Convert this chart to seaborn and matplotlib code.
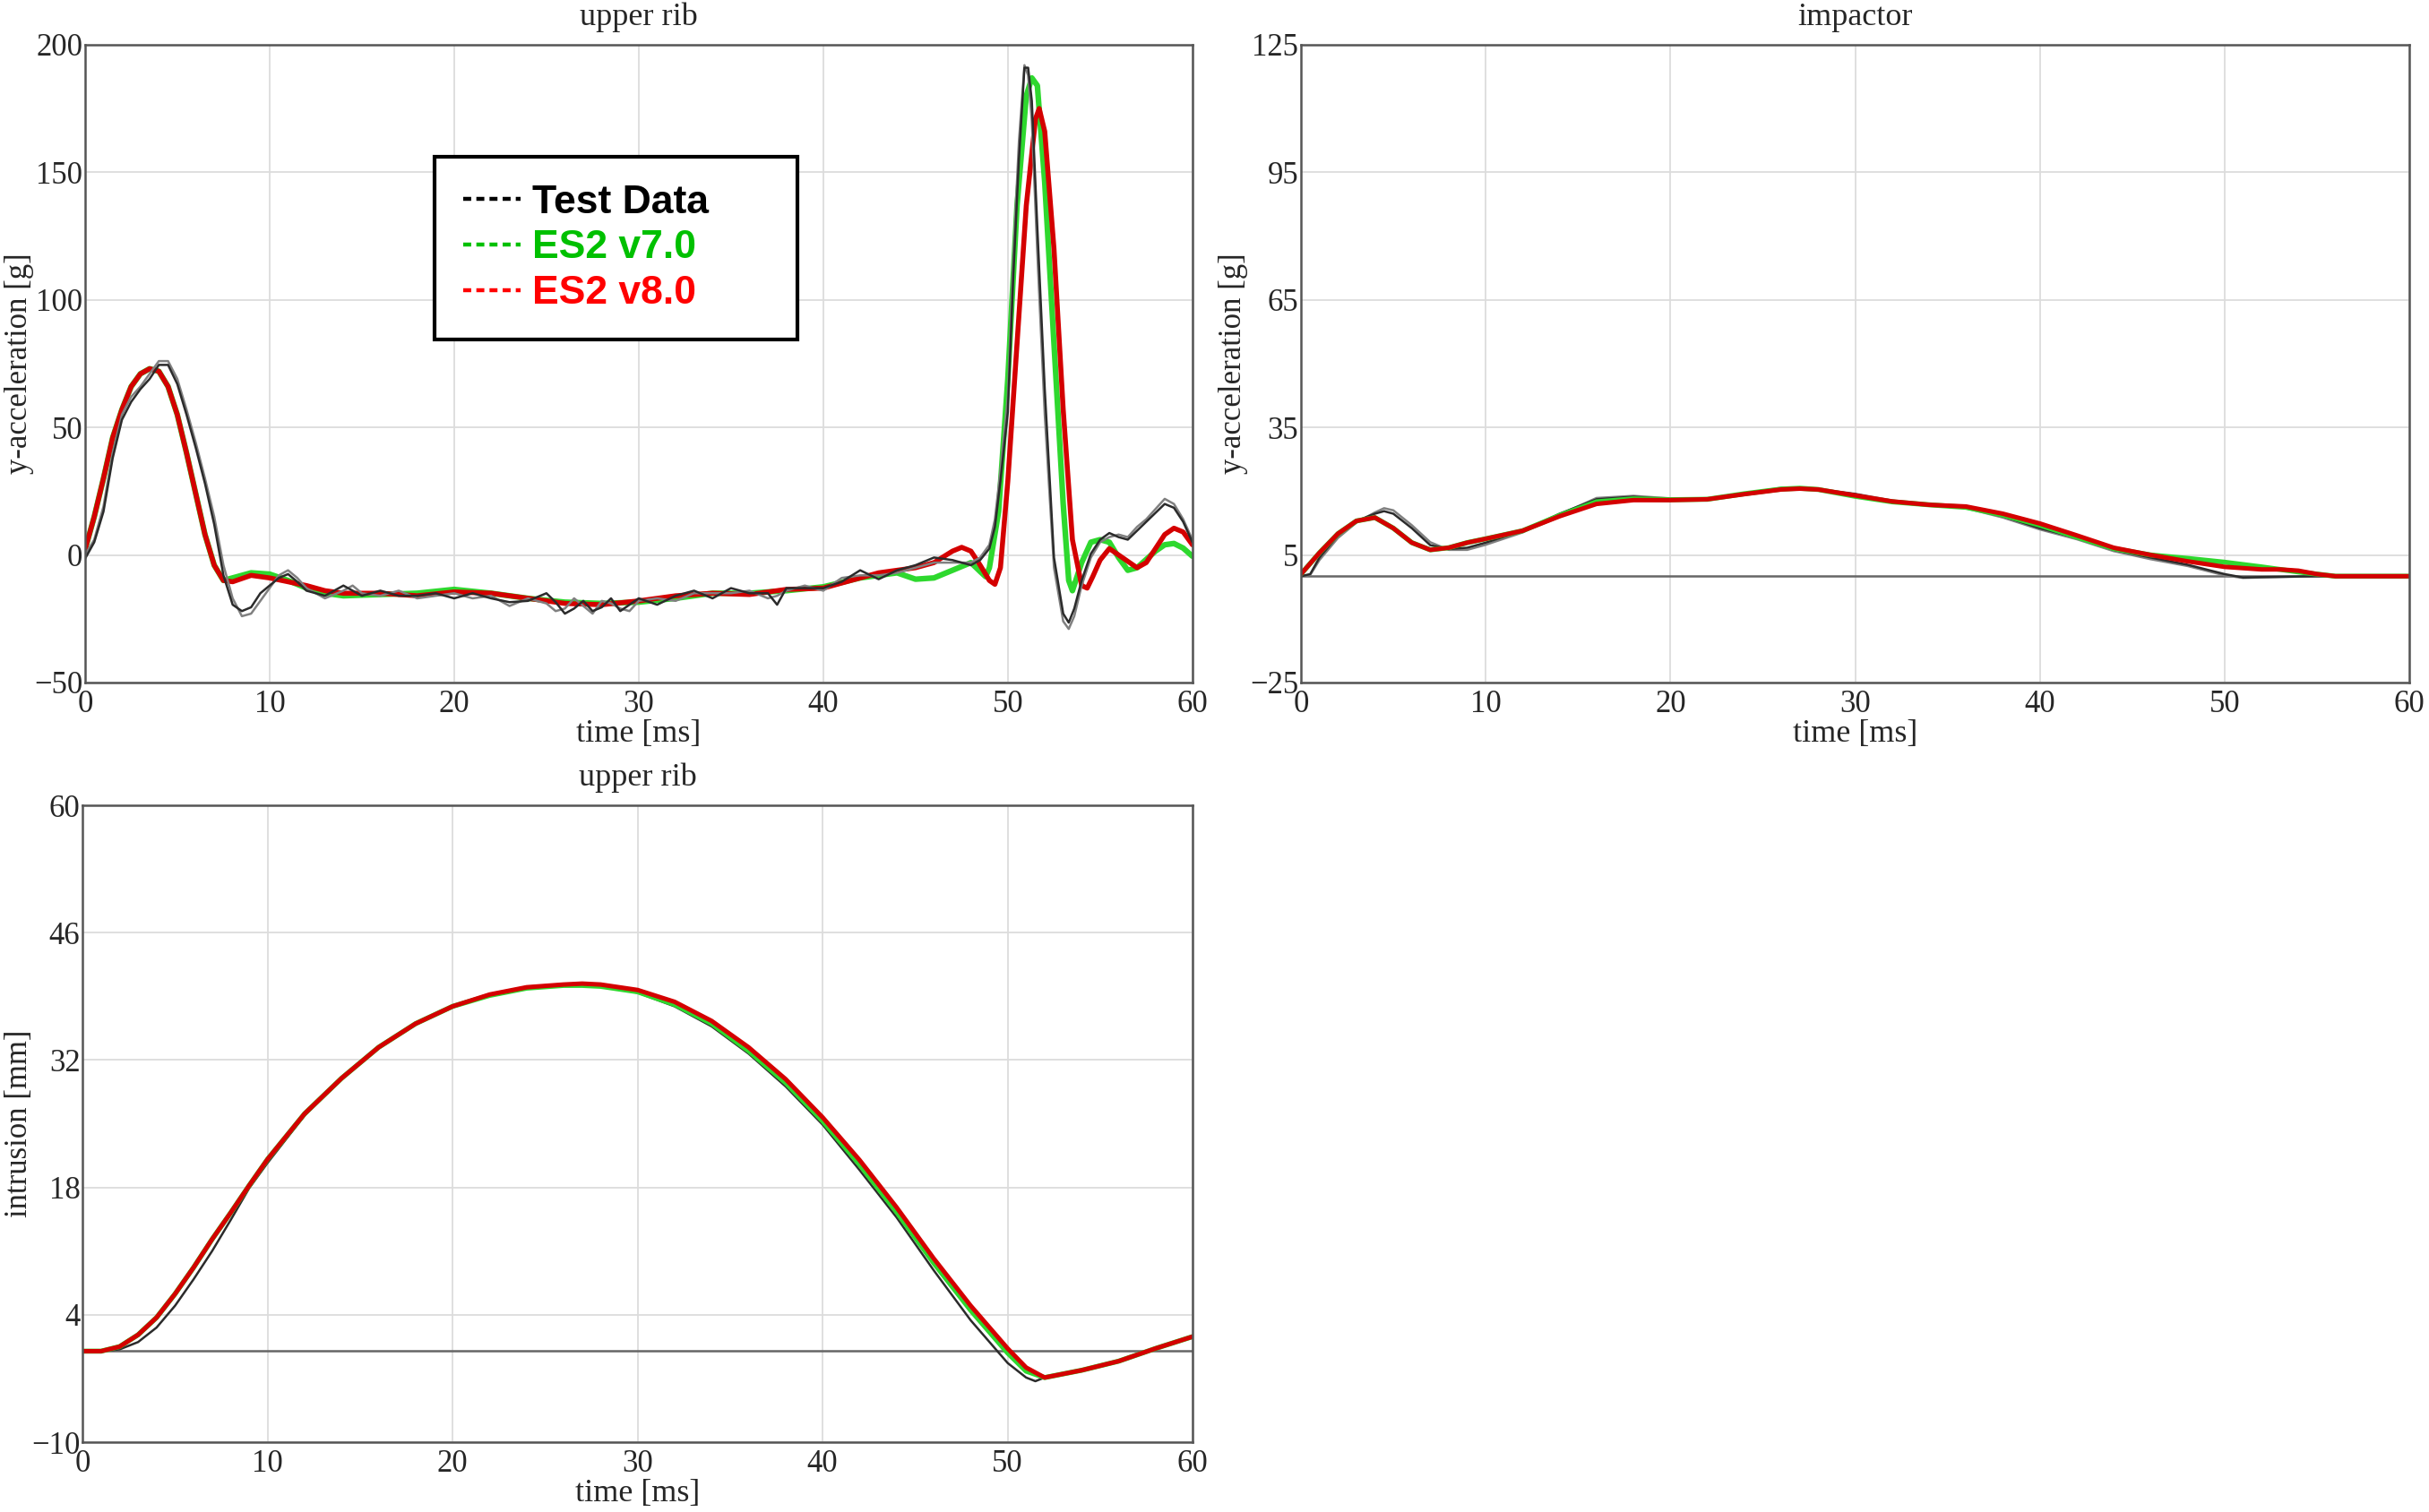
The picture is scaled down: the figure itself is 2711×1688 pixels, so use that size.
import pandas as pd
import seaborn as sns
import matplotlib.pyplot as plt
from matplotlib.lines import Line2D

# upper rib y-acceleration [g]
rib_t_test = [0, 0.5, 1, 1.5, 2, 2.5, 3, 3.5, 4, 4.5, 5, 5.5, 6, 6.5, 7, 7.5, 8, 8.5, 9, 9.5,
              10, 10.5, 11, 11.5, 12, 13, 14, 14.5, 15, 16, 17, 18, 19, 20, 21, 22, 23, 24, 25, 25.5,
              26, 26.5, 27, 27.5, 28, 28.5, 29, 29.5, 30, 31, 32, 33, 34, 35, 36, 37, 37.5, 38, 39, 40,
              41, 42, 43, 44, 45, 46, 47, 48, 48.5, 49, 49.3, 49.6, 50, 50.3, 50.6, 50.9, 51.1, 51.3, 51.6, 52,
              52.5, 53, 53.3, 53.6, 54, 54.5, 55, 55.5, 56, 56.5, 57, 57.5, 58, 58.5, 59, 59.5, 60]
rib_test1 = [-1.5, 5, 17, 38, 53, 60, 65, 69, 74.5, 74.5, 67, 55, 42, 28, 12, -8, -19.5, -22, -20.5, -15,
             -12, -9, -7.5, -10.5, -14, -16, -12, -14, -16, -14, -16, -16, -15, -17, -15, -17, -18.5, -18, -15, -18.5,
             -23, -21, -18, -22, -20.5, -17, -22, -19.5, -17, -19.5, -16, -14, -17, -13, -15, -15, -19.5, -13, -13, -13,
             -10.5, -6, -9.5, -6, -4, -1, -2, -4, -2, 2.5, 11, 29, 56, 110, 155, 191, 191, 178, 128, 65,
             -1, -23, -26.5, -21, -10, 0.5, 6, 8.6, 7, 6, 9.5, 13, 16.5, 20, 18.5, 13, 5]
rib_test2 = [0, 6, 19, 40, 55, 62, 66, 71, 76, 76, 69, 57, 44, 30, 15, -4, -17, -24, -23, -18,
             -13, -8, -6, -9, -13, -17, -14, -12, -15, -16, -14, -17, -16, -15, -17, -16, -20, -17, -19, -22,
             -21, -17, -20, -23, -18, -19, -21, -22, -18, -17, -18, -15, -15, -15, -14, -17, -16, -14, -12, -14,
             -9, -8, -8, -7, -5, -3, -3, -3, -1, 4, 14, 33, 62, 117, 162, 192, 188, 170, 118, 55,
             -5, -26, -29, -24, -12, -1, 5, 7, 8, 7, 11, 14, 18, 22, 20, 14, 6]
rib_t_v7 = [0, 0.5, 1, 1.5, 2, 2.5, 3, 3.5, 4, 4.5, 5, 5.5, 6, 6.5, 7, 7.5, 8, 9, 10, 11,
            12, 13, 14, 16, 18, 20, 22, 24, 26, 28, 30, 32, 34, 36, 38, 40, 42, 44, 45, 46,
            47, 48, 48.5, 48.8, 49, 49.5, 50, 50.5, 51, 51.3, 51.6, 52, 52.5, 53, 53.3, 53.5, 54, 54.5, 55, 55.5,
            56, 56.5, 57, 58, 58.5, 59, 59.5, 60]
rib_v7 = [2, 15, 30, 46, 57, 66, 71, 73, 72, 66, 55, 40, 24, 8, -4, -10, -9, -7, -7.5, -10,
          -13, -15, -16, -15.5, -15, -13.5, -15, -17, -18.5, -19, -18.5, -17, -15, -15, -14, -12.5, -9, -7, -9.5, -9,
          -6, -3, -6.5, -8.5, -5, 17, 69, 137, 180, 187, 184, 146, 83, 20, -10, -14, -3, 5, 6, 5,
          -1, -6, -5, 1.5, 4, 4.5, 2.7, -0.5]
rib_t_v8 = [0, 0.5, 1, 1.5, 2, 2.5, 3, 3.5, 4, 4.5, 5, 5.5, 6, 6.5, 7, 7.5, 8, 9, 10, 11,
            12, 13, 14, 16, 18, 20, 22, 24, 26, 28, 30, 32, 34, 36, 38, 40, 42, 43, 44, 45,
            46, 47, 47.5, 48, 48.5, 49, 49.3, 49.6, 50, 50.5, 51, 51.5, 51.7, 52, 52.5, 53, 53.5, 54, 54.3, 54.6,
            55, 55.5, 56, 57, 57.5, 58, 58.5, 59, 59.5, 60]
rib_v8 = [2, 15, 30, 46, 57, 66, 71, 73, 72, 66, 55, 40, 24, 8, -4, -10, -10.5, -8, -9, -10.5,
          -12, -14, -15, -15, -16, -14.5, -15, -17, -19, -19.5, -18, -16, -15, -15.5, -13.5, -13, -9, -7, -6, -5,
          -3, 1.5, 3, 1.5, -4, -10, -11.5, -5, 29, 83, 137, 171, 175, 166, 120, 57, 6, -12, -13, -8.5,
          -2, 2.5, 0, -5, -3, 2.5, 8, 10.5, 9, 4]

# impactor y-acceleration [g]
imp_t_test = [0, 0.5, 1, 2, 3, 4, 4.5, 5, 6, 7, 8, 9, 10, 12, 14, 16, 18, 20, 22, 24,
              26, 28, 30, 32, 34, 36, 38, 40, 42, 44, 46, 48, 50, 51, 52, 55, 60]
imp_test1 = [0, 0.5, 4.4, 9.6, 13, 14.7, 15.3, 14.7, 11.3, 7.3, 6.4, 6.7, 7.9, 10.7, 14.7, 18.1, 18.7, 18.1, 18.1, 19.3,
             20.6, 20.4, 19.3, 17.6, 16.8, 16.1, 14.1, 11.3, 9, 6.2, 4.4, 2.7, 0.5, -0.3, -0.2, 0, 0]
imp_test2 = [0, 0.3, 3.8, 9, 12.6, 15, 16, 15.5, 12, 8, 6.2, 6.2, 7.4, 10.3, 14.5, 18.4, 18.9, 18.3, 18.2, 19.5,
             20.8, 20.5, 19.4, 17.8, 16.9, 16, 13.8, 11, 8.7, 5.9, 4, 2.4, 0.2, -0.4, -0.3, 0, 0]
imp_t_sim = [0, 1, 2, 3, 4, 5, 6, 7, 8, 9, 10, 12, 14, 16, 18, 20, 22, 24, 26, 27,
             28, 30, 32, 34, 36, 38, 40, 42, 44, 46, 48, 50, 52, 53, 54, 55, 56, 60]
imp_v7 = [0.5, 5.5, 10, 13, 13.8, 11.3, 7.9, 6.2, 6.7, 7.9, 8.8, 10.7, 14.3, 17.5, 18.2, 18, 18.1, 19.4, 20.5, 20.7,
          20.4, 18.8, 17.5, 16.8, 16.2, 14.4, 12, 9.2, 6.5, 5, 4.2, 3.3, 2.2, 1.6, 1, 0.5, 0, 0]
imp_v8 = [0.5, 5.5, 10, 13, 13.8, 11.3, 7.9, 6.2, 6.7, 7.9, 8.8, 10.7, 14.1, 17, 17.9, 17.9, 18.1, 19.3, 20.4, 20.6,
          20.4, 19, 17.6, 16.8, 16.4, 14.7, 12.4, 9.6, 6.7, 5, 3.5, 2.2, 1.6, 1.6, 1.3, 0.5, 0, 0]

# upper rib intrusion [mm]
int_t_test = [0, 1, 2, 3, 4, 5, 6, 7, 8, 9, 10, 12, 14, 16, 18, 20, 22, 24, 26, 27,
              28, 30, 32, 34, 36, 38, 40, 42, 44, 46, 48, 50, 51, 51.5, 52, 54, 56, 58, 60]
int_test = [0, 0, 0.2, 1, 2.6, 5, 7.9, 11, 14.4, 17.9, 20.7, 25.9, 29.9, 33.3, 35.9, 37.8, 39.1, 39.9, 40.2, 40.3,
            40.1, 39.4, 37.9, 35.7, 32.7, 29.1, 24.9, 19.9, 14.7, 8.9, 3.4, -1.3, -2.9, -3.3, -2.9, -2.1, -1.1, 0.3, 1.6]
int_t_sim = [0, 1, 2, 3, 4, 5, 6, 7, 8, 9, 10, 12, 14, 16, 18, 20, 22, 24, 26, 27,
             28, 30, 32, 34, 36, 38, 40, 42, 44, 46, 48, 50, 51, 52, 54, 56, 58, 60]
int_v7 = [0, 0, 0.5, 1.8, 3.7, 6.3, 9.2, 12.3, 15.2, 18.2, 21.1, 26.1, 30, 33.4, 36, 37.9, 39.1, 39.9, 40.2, 40.2,
          40.1, 39.5, 38.1, 36, 33, 29.5, 25.3, 20.5, 15.3, 9.7, 4.5, -0.2, -2.2, -2.9, -2.1, -1.1, 0.3, 1.6]
int_v8 = [0, 0, 0.5, 1.8, 3.7, 6.3, 9.2, 12.3, 15.2, 18.2, 21.1, 26.1, 30, 33.4, 36, 37.9, 39.2, 40, 40.3, 40.4,
          40.3, 39.7, 38.4, 36.3, 33.4, 29.9, 25.7, 21, 15.8, 10.2, 5, 0.3, -1.8, -2.9, -2.1, -1.1, 0.3, 1.6]

x_ticks = [0, 10, 20, 30, 40, 50, 60]
rib_ticks = [-50, 0, 50, 100, 150, 200]
imp_ticks = [-25, 5, 35, 65, 95, 125]
int_ticks = [-10, 4, 18, 32, 46, 60]
legend_labels = ["Test Data", "ES2 v7.0", "ES2 v8.0"]

GREEN = "#2ed82e"
RED = "#d40000"
TEST1 = "#2b2b2b"
TEST2 = "#808080"

sns.set_style("white")
plt.rcParams["font.family"] = ["Liberation Serif", "DejaVu Serif"]

fig = plt.figure(figsize=(27.11, 16.88), dpi=100)
ax1 = fig.add_axes([0.0350, 0.5486, 0.4559, 0.4218])
ax2 = fig.add_axes([0.5356, 0.5486, 0.4563, 0.4218])
ax3 = fig.add_axes([0.0340, 0.0462, 0.4570, 0.4212])


def style(ax, yticks, title, ylabel, zero_line, label_x):
    ax.set_xlim(0, 60)
    ax.set_ylim(yticks[0], yticks[-1])
    ax.set_xticks(x_ticks)
    ax.set_yticks(yticks)
    ax.grid(True, color="#dcdcdc", lw=1.3)
    ax.set_axisbelow(True)
    for s in ax.spines.values():
        s.set_color("#555555")
        s.set_linewidth(1.8)
    ax.tick_params(length=0, labelsize=25)
    ax.tick_params(axis="x", pad=6)
    ax.tick_params(axis="y", pad=2)
    ax.set_title(title, fontsize=26, pad=16)
    ax.set_xlabel("time [ms]", fontsize=26, labelpad=0)
    ax.set_ylabel(ylabel, fontsize=25)
    ax.yaxis.set_label_coords(label_x, 0.5)
    if zero_line:
        ax.axhline(0, color="#666666", lw=1.8, zorder=1)


def draw(ax, t, y, color, lw):
    sns.lineplot(x=t, y=y, ax=ax, color=color, lw=lw, estimator=None, sort=False)


# upper rib acceleration
draw(ax1, rib_t_v7, rib_v7, GREEN, 4.5)
draw(ax1, rib_t_v8, rib_v8, RED, 4.0)
draw(ax1, rib_t_test, rib_test2, TEST2, 1.8)
draw(ax1, rib_t_test, rib_test1, TEST1, 1.8)
style(ax1, rib_ticks, "upper rib", "y-acceleration [g]", False, -0.046)

# impactor
draw(ax2, imp_t_test, imp_test2, TEST2, 1.8)
draw(ax2, imp_t_test, imp_test1, TEST1, 1.8)
draw(ax2, imp_t_sim, imp_v7, GREEN, 4.0)
draw(ax2, imp_t_sim, imp_v8, RED, 3.6)
style(ax2, imp_ticks, "impactor", "y-acceleration [g]", True, -0.0477)

# intrusion
draw(ax3, int_t_test, int_test, TEST1, 1.8)
draw(ax3, int_t_sim, int_v7, GREEN, 4.0)
draw(ax3, int_t_sim, int_v8, RED, 3.6)
style(ax3, int_ticks, "upper rib", "intrusion [mm]", True, -0.0436)

handles = [Line2D([], [], color=c, lw=3.2, linestyle=(0, (2.0, 1.3)))
           for c in ["black", "#00c000", "#ff0000"]]
leg = ax1.legend(handles, legend_labels, loc="upper left", mode="expand",
                 bbox_to_anchor=(0.316, 0.5, 0.327, 0.325),
                 prop={"family": "Liberation Sans", "weight": "bold", "size": 32},
                 labelcolor=["black", "#00c000", "#ff0000"],
                 handlelength=1.45, handletextpad=0.3, labelspacing=0.22,
                 borderpad=0.7, borderaxespad=0, fancybox=False, framealpha=1)
leg.get_frame().set_edgecolor("black")
leg.get_frame().set_linewidth(3)

plt.savefig("out.png", dpi=100)
